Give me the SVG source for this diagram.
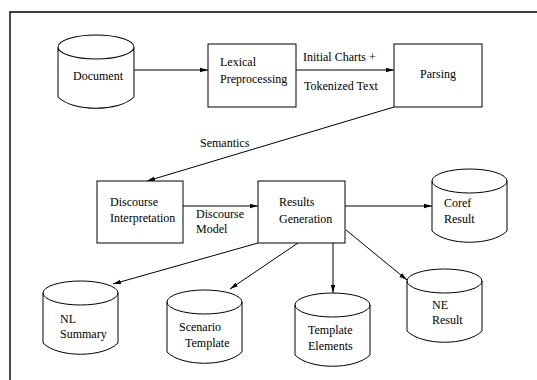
<svg xmlns="http://www.w3.org/2000/svg" xmlns:xlink="http://www.w3.org/1999/xlink" width="537" height="380" viewBox="0 0 537 380" font-family="'Liberation Serif', 'Times New Roman', serif" font-size="12">
  <style>
    .frame { fill: none; stroke: #000; stroke-width: 1.4; }
    .box { fill: #fff; stroke: #000; stroke-width: 1; }
    .cyl { fill: #fff; stroke: #000; stroke-width: 1; }
    .edge { fill: none; stroke: #000; stroke-width: 1; marker-end: url(#arrow); }
    text { font-family: "Liberation Serif", "Times New Roman", serif; font-size: 12px; fill: #000; }
  </style>
  <defs>
    <marker id="arrow" viewBox="0 0 8 6" refX="8" refY="3" markerWidth="8" markerHeight="6" markerUnits="userSpaceOnUse" orient="auto">
      <path d="M0,0.8 L8,3 L0,5.2 Z" fill="#000"/>
    </marker>
    <!-- storage cylinder, 75 wide, 73 tall -->
    <path id="cylinder" class="cyl" d="M0,12 A37.5,12 0 0 1 75,12 V62 C60,77 15,77 0,62 Z M0,12 A37.5,12 0 0 0 75,12"/>
  </defs>

  <rect width="537" height="380" fill="#fff"/>
  <path class="frame" d="M10,380 V12 H537"/>

  <g id="connectors">
    <line class="edge" x1="134" y1="70" x2="208" y2="70"/>
    <line class="edge" x1="296" y1="70" x2="394" y2="70"/>
    <line class="edge" x1="394" y1="107" x2="147" y2="181"/>
    <line class="edge" x1="183" y1="206" x2="258" y2="206"/>
    <line class="edge" x1="345" y1="206" x2="432" y2="206"/>
    <line class="edge" x1="258" y1="243" x2="113" y2="284"/>
    <line class="edge" x1="298" y1="243" x2="230" y2="289"/>
    <line class="edge" x1="333" y1="243" x2="333" y2="293"/>
    <line class="edge" x1="346" y1="230" x2="407" y2="280"/>
    <text x="303" y="61">Initial Charts +</text>
    <text x="304" y="90">Tokenized Text</text>
    <text x="200" y="147">Semantics</text>
    <text x="196" y="218">Discourse</text>
    <text x="196" y="233">Model</text>
  </g>

  <g id="document">
    <use xlink:href="#cylinder" transform="translate(58,35) scale(1.013,1)"/>
    <text x="73" y="80">Document</text>
  </g>

  <g id="lexical">
    <rect class="box" x="208" y="44" width="88" height="63"/>
    <text x="220" y="66">Lexical</text>
    <text x="220" y="83">Preprocessing</text>
  </g>

  <g id="parsing">
    <rect class="box" x="394" y="44" width="88" height="63"/>
    <text x="420" y="78">Parsing</text>
  </g>

  <g id="discourse">
    <rect class="box" x="97" y="181" width="86" height="62"/>
    <text x="110" y="206">Discourse</text>
    <text x="110" y="222">Interpretation</text>
  </g>

  <g id="results">
    <rect class="box" x="258" y="181" width="87" height="62"/>
    <text x="279" y="206">Results</text>
    <text x="279" y="223">Generation</text>
  </g>

  <g id="coref">
    <use xlink:href="#cylinder" x="432" y="169"/>
    <text x="444" y="207">Coref</text>
    <text x="444" y="223">Result</text>
  </g>

  <g id="nl-summary">
    <use xlink:href="#cylinder" x="43" y="281"/>
    <text x="60" y="323">NL</text>
    <text x="60" y="338">Summary</text>
  </g>

  <g id="scenario-template">
    <use xlink:href="#cylinder" x="167" y="290"/>
    <text x="179" y="331">Scenario</text>
    <text x="185" y="347">Template</text>
  </g>

  <g id="template-elements">
    <use xlink:href="#cylinder" x="295" y="293"/>
    <text x="308" y="334">Template</text>
    <text x="308" y="350">Elements</text>
  </g>

  <g id="ne-result">
    <use xlink:href="#cylinder" x="407" y="269"/>
    <text x="432" y="309">NE</text>
    <text x="432" y="324">Result</text>
  </g>
</svg>
